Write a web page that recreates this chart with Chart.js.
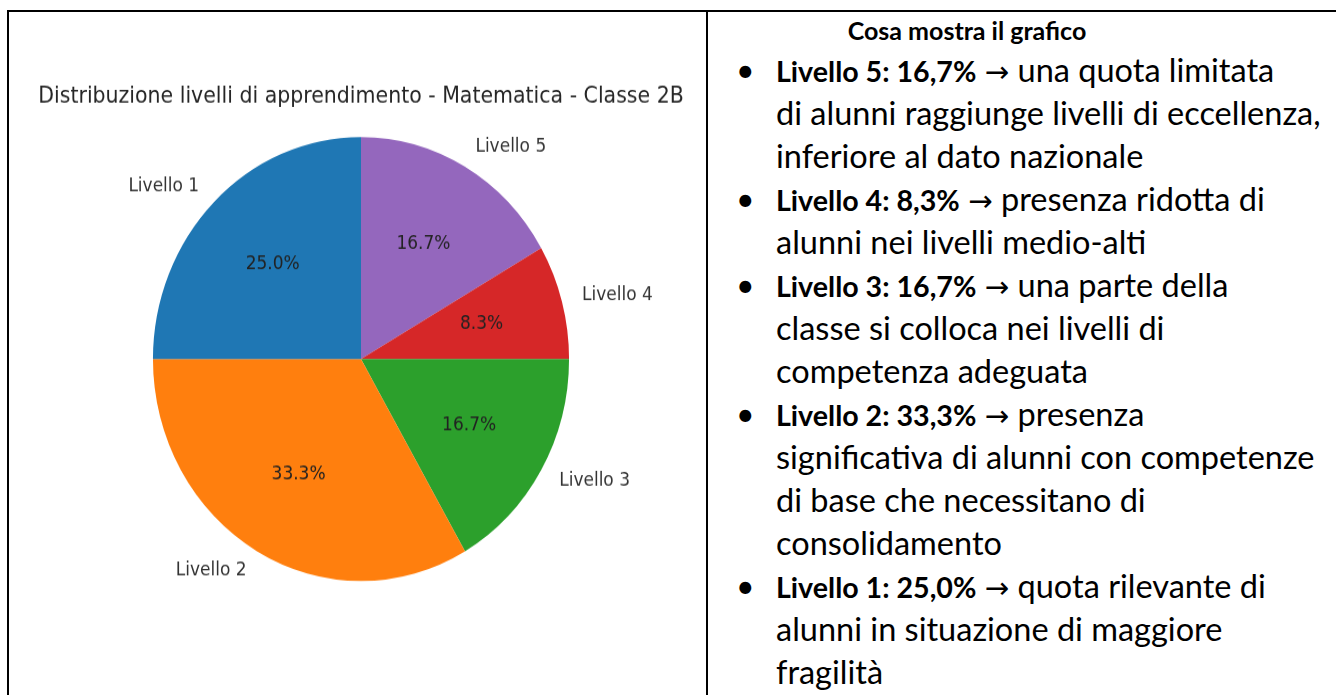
<!DOCTYPE html>
<html lang="it">
<head>
<meta charset="utf-8">
<title>Distribuzione livelli di apprendimento - Matematica - Classe 2B</title>
<script src="https://cdn.jsdelivr.net/npm/chart.js@4"></script>
<style>
  html, body { margin: 0; padding: 0; background: #fff; }
  body { width: 1336px; height: 695px; overflow: hidden; position: relative; }
  .frame { position: absolute; left: 7px; top: 10px; width: 1400px; height: 800px; border: 2px solid #000; box-sizing: border-box; }
  .divider { position: absolute; left: 706px; top: 10px; width: 2px; height: 800px; background: #000; }
  /* the original picture is slightly stretched vertically */
  #wrap { position: absolute; left: 11px; top: 60px; width: 700px; height: 520px; transform-origin: 0 0; transform: scaleY(1.067); }
  .notes { position: absolute; left: 0; top: 0; font-family: Lato, "Open Sans", sans-serif; color: #000; font-size: 32.5px; }
  .notes h2 { position: absolute; left: 767px; width: 400px; top: 11px; margin: 0; height: 38px; line-height: 38px; text-align: center; font-size: 25px; font-weight: bold; }
  .notes .list { position: absolute; left: 776px; top: 48px; white-space: nowrap; }
  .notes .ln { position: relative; height: 43px; line-height: 43px; }
  .notes .ln b { font-size: 0.88em; }
  .notes .ln.first::before { content: "\2022"; position: absolute; left: -40px; top: 0; font-size: 32px; }
  .arrow { font-family: "DejaVu Sans", sans-serif; font-size: 0.9em; }
</style>
</head>
<body>
<div class="frame"></div>
<div class="divider"></div>
<div id="wrap"><canvas id="pie"></canvas></div>

<div class="notes">
  <h2>Cosa mostra il grafico</h2>
  <div class="list">
    <div class="ln first"><b>Livello 5: 16,7%</b> <span class="arrow">→</span> una quota limitata</div>
    <div class="ln">di alunni raggiunge livelli di eccellenza,</div>
    <div class="ln">inferiore al dato nazionale</div>
    <div class="ln first"><b>Livello 4: 8,3%</b> <span class="arrow">→</span> presenza ridotta di</div>
    <div class="ln">alunni nei livelli medio-alti</div>
    <div class="ln first"><b>Livello 3: 16,7%</b> <span class="arrow">→</span> una parte della</div>
    <div class="ln">classe si colloca nei livelli di</div>
    <div class="ln">competenza adeguata</div>
    <div class="ln first"><b>Livello 2: 33,3%</b> <span class="arrow">→</span> presenza</div>
    <div class="ln">significativa di alunni con competenze</div>
    <div class="ln">di base che necessitano di</div>
    <div class="ln">consolidamento</div>
    <div class="ln first"><b>Livello 1: 25,0%</b> <span class="arrow">→</span> quota rilevante di</div>
    <div class="ln">alunni in situazione di maggiore</div>
    <div class="ln">fragilità</div>
  </div>
</div>

<script>
const TITLE = "Distribuzione livelli di apprendimento - Matematica - Classe 2B";
const LABELS = ["Livello 1", "Livello 2", "Livello 3", "Livello 4", "Livello 5"];
const COUNTS = [3, 4, 2, 1, 2];
const COLORS = ["#1f77b4", "#ff7f0e", "#2ca02c", "#d62728", "#9467bd"];

// matplotlib draws counterclockwise from 90deg, Chart.js clockwise from the top:
// reversing the order gives the same layout
const labels = LABELS.slice().reverse();
const counts = COUNTS.slice().reverse();
const colors = COLORS.slice().reverse();

const FONT = "'DejaVu Sans', sans-serif";

// labels outside at 1.1 r, percentages inside at 0.6 r
const pieLabels = {
  id: "pieLabels",
  afterDatasetsDraw(chart) {
    const ctx = chart.ctx;
    const meta = chart.getDatasetMeta(0);
    const data = chart.data.datasets[0].data;
    const total = data.reduce((s, v) => s + v, 0);
    ctx.save();
    ctx.font = "17px " + FONT;
    ctx.textBaseline = "middle";
    meta.data.forEach((arc, i) => {
      const p = arc.getProps(["x", "y", "startAngle", "endAngle", "outerRadius"], true);
      const mid = (p.startAngle + p.endAngle) / 2;
      const cx = Math.cos(mid), cy = Math.sin(mid);
      ctx.fillStyle = "#222";
      ctx.textAlign = "center";
      ctx.fillText(((data[i] / total) * 100).toFixed(1) + "%",
        p.x + cx * p.outerRadius * 0.6, p.y + cy * p.outerRadius * 0.6);
      ctx.fillStyle = "#333";
      ctx.textAlign = cx >= 0 ? "left" : "right";
      ctx.fillText(chart.data.labels[i],
        p.x + cx * p.outerRadius * 1.1, p.y + cy * p.outerRadius * 1.1);
    });
    ctx.restore();
  },
};

new Chart(document.getElementById("pie"), {
  type: "pie",
  data: {
    labels: labels,
    datasets: [{ data: counts, backgroundColor: colors, borderWidth: 0, hoverOffset: 0 }],
  },
  options: {
    responsive: true,
    maintainAspectRatio: false,
    animation: false,
    layout: { padding: { left: 0, right: 0, top: 0, bottom: 31.7 } },
    plugins: {
      legend: { display: false },
      tooltip: { enabled: false },
      title: {
        display: true,
        text: TITLE,
        color: "#262626",
        font: { family: FONT, size: 20.5, weight: "normal" },
        padding: { top: 22.4, bottom: 25.2 },
      },
    },
  },
  plugins: [pieLabels],
});
</script>
</body>
</html>
